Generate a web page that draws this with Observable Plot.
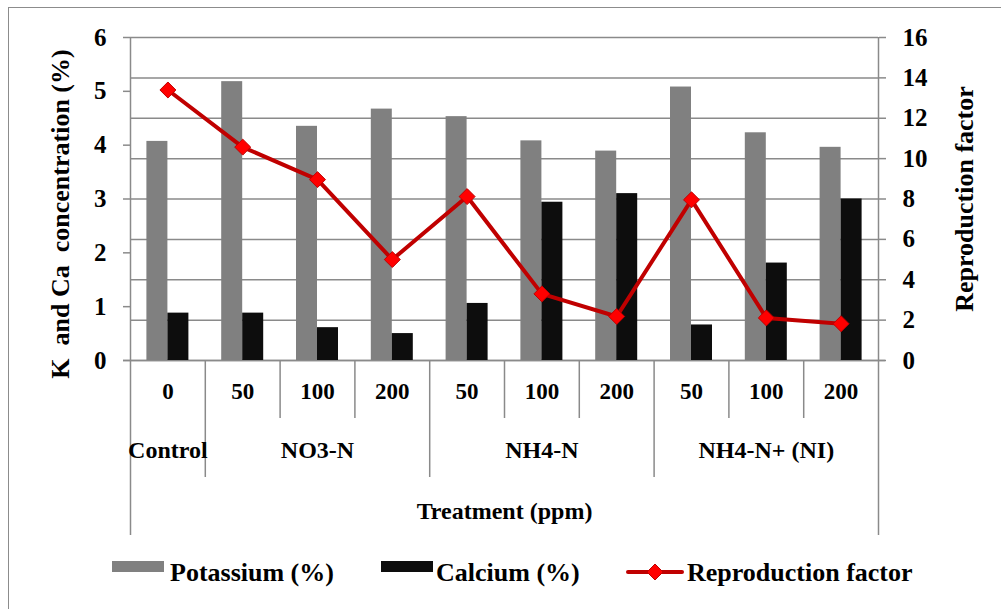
<!DOCTYPE html>
<html>
<head>
<meta charset="utf-8">
<script src="https://cdn.jsdelivr.net/npm/d3@7"></script>
<script src="https://cdn.jsdelivr.net/npm/@observablehq/plot@0.6"></script>
<style>
  html, body { margin: 0; padding: 0; background: #fff; overflow: hidden; }
  #wrap { position: relative; width: 1001px; height: 609px; overflow: hidden; font-family: "Liberation Serif", "DejaVu Serif", serif; font-weight: bold; }
  #border { position: absolute; left: 8px; top: 7px; width: 1100px; height: 700px; border: 1.5px solid #8c8c8c; box-sizing: border-box; }
  #chart { position: absolute; left: 0; top: 0; }
  #legend { position: absolute; left: 0; top: 545px; width: 1001px; height: 64px; }
  .lg-text { position: absolute; font-size: 26px; line-height: 26px; white-space: nowrap; color: #000; }
</style>
</head>
<body>
<div id="wrap">
  <div id="border"></div>
  <div id="chart"></div>
  <div id="legend"></div>
</div>
<script>
// ---- data ----
const groups = ["Control", "NO3-N", "NO3-N", "NO3-N", "NH4-N", "NH4-N", "NH4-N", "NH4-N+ (NI)", "NH4-N+ (NI)", "NH4-N+ (NI)"];
const doses = ["0", "50", "100", "200", "50", "100", "200", "50", "100", "200"];
const potassium = [4.07, 5.18, 4.35, 4.67, 4.53, 4.08, 3.89, 5.08, 4.23, 3.96];
const calcium = [0.88, 0.88, 0.61, 0.50, 1.06, 2.94, 3.10, 0.66, 1.81, 3.00];
const reproduction = [13.4, 10.57, 8.96, 5.0, 8.12, 3.3, 2.18, 7.96, 2.11, 1.82];
const leftTicks = [0, 1, 2, 3, 4, 5, 6];
const rightTicks = [0, 2, 4, 6, 8, 10, 12, 14, 16];
const leftMax = 6, rightMax = 16;
const toLeft = v => v * leftMax / rightMax;

const data = doses.map((d, i) => ({i, group: groups[i], dose: d, k: potassium[i], ca: calcium[i], rf: reproduction[i]}));
const groupNames = [...new Set(groups)];
const groupLabels = groupNames.map(g => ({group: g, i: d3.mean(data.filter(d => d.group === g), d => d.i)}));
const innerBounds = [], groupBounds = [];
for (let i = 0; i < data.length - 1; i++) {
  (groups[i] === groups[i + 1] ? innerBounds : groupBounds).push(i + 0.5);
}
const outerBounds = [-0.5, data.length - 0.5];

const FONT = "'Liberation Serif', 'DejaVu Serif', serif";
const gridColor = "#8a8a8a";
const lineRed = "#c00000";

const chart = Plot.plot({
  width: 1001,
  height: 545,
  marginLeft: 130,
  marginRight: 123,
  marginTop: 37,
  marginBottom: 185,
  style: {fontFamily: FONT, fontWeight: "bold", fontSize: "25px", color: "#000", background: "transparent"},
  x: {domain: [-0.5, data.length - 0.5], axis: null},
  y: {domain: [0, leftMax], axis: null},
  marks: [
    Plot.ruleY(rightTicks.map(toLeft), {stroke: gridColor, strokeWidth: 1.5}),
    Plot.ruleY([0], {stroke: gridColor, strokeWidth: 1.5, insetLeft: -7, insetRight: -7}),
    Plot.ruleX(outerBounds, {stroke: gridColor, strokeWidth: 1.5, insetBottom: -175}),
    Plot.ruleX(innerBounds, {stroke: gridColor, strokeWidth: 1.5, insetTop: 323, insetBottom: -58}),
    Plot.ruleX(groupBounds, {stroke: gridColor, strokeWidth: 1.5, insetTop: 323, insetBottom: -117}),
    Plot.rectY(data, {x1: d => d.i - 0.5, x2: d => d.i, y: "k", fill: "#808080", insetLeft: 16.4}),
    Plot.rectY(data, {x1: d => d.i, x2: d => d.i + 0.5, y: "ca", fill: "#0d0d0d", insetRight: 16.4}),
    Plot.line(data, {x: "i", y: d => toLeft(d.rf), stroke: lineRed, strokeWidth: 4, strokeLinejoin: "miter"}),
    Plot.dot(data, {x: "i", y: d => toLeft(d.rf), symbol: "diamond2", r: 7.2, fill: "#ff0000", stroke: lineRed, strokeWidth: 1}),
    Plot.axisY(leftTicks, {anchor: "left", tickSize: 7, tickPadding: 17, stroke: gridColor, fill: "#000", strokeWidth: 1.5, label: null, fontSize: 25, tickFormat: v => String(v)}),
    Plot.axisY(rightTicks.map(toLeft), {anchor: "right", tickSize: 7, tickPadding: 17, stroke: gridColor, fill: "#000", strokeWidth: 1.5, label: null, fontSize: 25, tickFormat: v => String(Math.round(v * rightMax / leftMax))}),
    Plot.text(data, {x: "i", text: "dose", frameAnchor: "bottom", dy: 38, fontSize: 23, fill: "#000"}),
    Plot.text(groupLabels, {x: "i", text: "group", frameAnchor: "bottom", dy: 97, fontSize: 24, fill: "#000"}),
    Plot.text(["Treatment (ppm)"], {text: d => d, frameAnchor: "bottom", dy: 158, fontSize: 24, fill: "#000"}),
    Plot.text(["K  and Ca  concentration (%)"], {text: d => d, frameAnchor: "left", textAnchor: "middle", rotate: -90, dx: -70, dy: 15, fontSize: 26, fill: "#000"}),
    Plot.text(["Reproduction factor"], {text: d => d, frameAnchor: "right", textAnchor: "middle", rotate: -90, dx: 86, fontSize: 26, fill: "#000"})
  ]
});
chart.querySelectorAll("text").forEach(t => t.style.whiteSpace = "pre");
document.getElementById("chart").appendChild(chart);

// ---- legend ----
const legendItems = [
  {label: "Potassium (%)", type: "rect", color: "#808080", sx: 112, tx: 170},
  {label: "Calcium (%)", type: "rect", color: "#0d0d0d", sx: 381, tx: 436},
  {label: "Reproduction factor", type: "line", color: lineRed, sx: 627, tx: 687}
];
const legend = document.getElementById("legend");
legendItems.forEach(it => {
  if (it.type === "rect") {
    const sw = document.createElement("div");
    sw.style.cssText = `position:absolute;left:${it.sx}px;top:16px;width:52px;height:11px;background:${it.color};`;
    legend.appendChild(sw);
  } else {
    const ns = "http://www.w3.org/2000/svg";
    const svg = document.createElementNS(ns, "svg");
    svg.setAttribute("width", 58);
    svg.setAttribute("height", 24);
    svg.style.cssText = `position:absolute;left:${it.sx - 1}px;top:15px;`;
    const ln = document.createElementNS(ns, "line");
    ln.setAttribute("x1", 2); ln.setAttribute("x2", 56); ln.setAttribute("y1", 12); ln.setAttribute("y2", 12);
    ln.setAttribute("stroke", it.color); ln.setAttribute("stroke-width", 4); ln.setAttribute("stroke-linecap", "round");
    svg.appendChild(ln);
    const dm = document.createElementNS(ns, "path");
    dm.setAttribute("d", d3.symbol(d3.symbolDiamond2, 7.2 * 7.2 * Math.PI)());
    dm.setAttribute("transform", "translate(29,12)");
    dm.setAttribute("fill", "#ff0000"); dm.setAttribute("stroke", it.color); dm.setAttribute("stroke-width", 1);
    svg.appendChild(dm);
    legend.appendChild(svg);
  }
  const tx = document.createElement("div");
  tx.className = "lg-text";
  tx.style.left = it.tx + "px";
  tx.style.top = "15px";
  tx.textContent = it.label;
  legend.appendChild(tx);
});
</script>
</body>
</html>
